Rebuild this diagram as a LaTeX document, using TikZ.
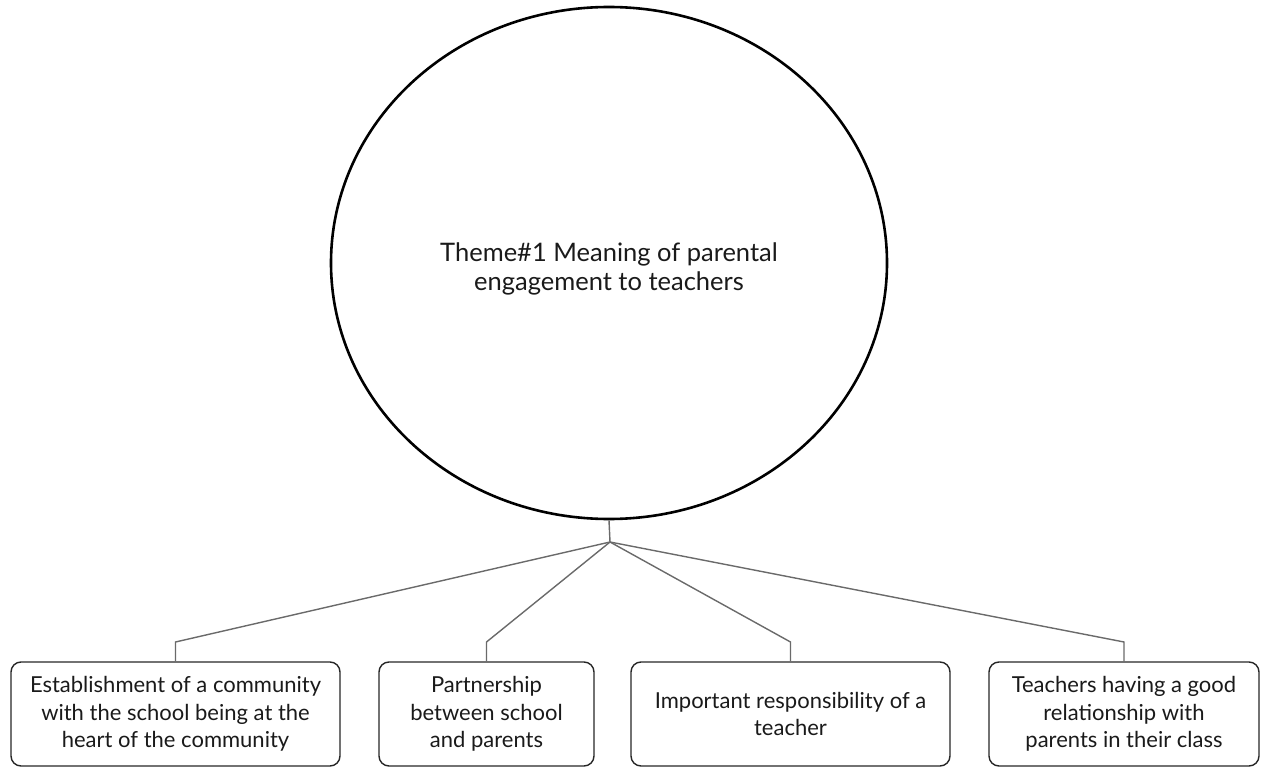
\documentclass[tikz,border=0pt]{standalone}
\usepackage{fontspec}
\setmainfont{Lato}
\usetikzlibrary{shapes.geometric}
\definecolor{txt}{HTML}{1A1A1A}
\definecolor{conn}{HTML}{6A6A6A}
\begin{document}
\begin{tikzpicture}[x=1pt,y=-1pt,
  theme/.style={draw=black, ellipse, line width=2.6pt, minimum width=556pt, minimum height=512pt, inner sep=0pt},
  themetext/.style={align=center, text=txt, font=\fontsize{25.5}{29}\selectfont},
  leaf/.style={draw=black!85, rounded corners=10pt, line width=1.4pt, minimum height=104pt, inner sep=2pt, align=center, text=txt, font=\fontsize{22}{27.5}\selectfont},
  link/.style={draw=conn, line width=1.4pt}]
\useasboundingbox (0,0) rectangle (1264,767);
\node[theme] (c) at (609,263) {};
\node[themetext] (ct) at (609,269) {Theme\#1 Meaning of parental\\engagement to teachers};
\node[leaf, minimum width=329pt] (b1) at (175.5,714) {Establishment of a community\\with the school being at the\\heart of the community};
\node[leaf, minimum width=215pt] (b2) at (486.5,714) {Partnership\\between school\\and parents};
\node[leaf, minimum width=319pt] (b3) at (790.5,714) {Important responsibility of a\\teacher};
\node[leaf, minimum width=270pt] (b4) at (1124,714) {Teachers having a good\\relationship with\\parents in their class};
\coordinate (j) at (610,542);
\coordinate (e) at (0,642);
\draw[link] (c.south) -- (j);
\foreach \b in {b1,b2,b3,b4}{
  \draw[link] (j) -- (\b.north |- e) -- (\b.north);
}
\end{tikzpicture}
\end{document}
